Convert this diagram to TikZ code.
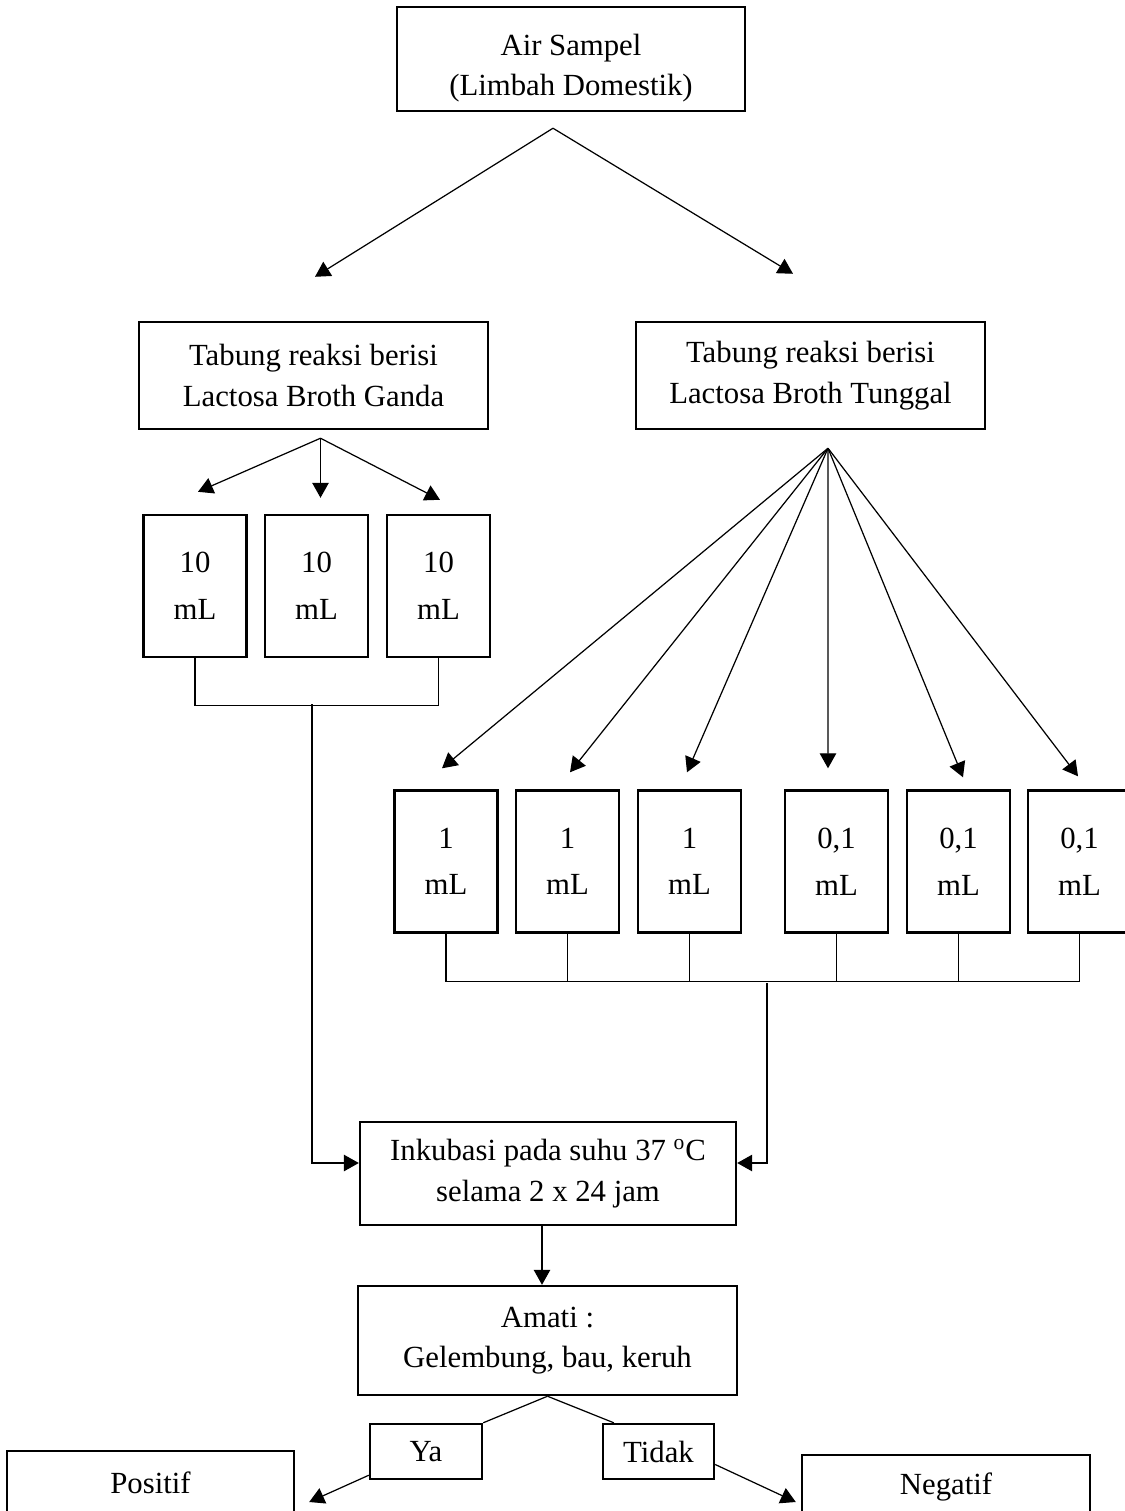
\documentclass[tikz,border=0pt]{standalone}
\usepackage{fontspec}
\setmainfont{Liberation Serif}
\usetikzlibrary{arrows.meta,calc,positioning}
\tikzset{%
  link/.style={-{Triangle[length=0.3cm,width=0.33cm]},line width=0.7pt},
  wire/.style={line width=0.7pt},
  block/.style={rectangle,draw,line width=1.4pt,align=center,inner sep=0pt,font=\fontsize{17.5}{23}\selectfont},
  tube/.style={block,minimum width=2.06cm,minimum height=2.84cm,font=\fontsize{17.5}{26.5}\selectfont}
}

\begin{document}
\begin{tikzpicture}[x=0.02cm,y=-0.02cm]
 \useasboundingbox (0,0) rectangle (1125,1511);
 \clip (0,0) rectangle (1125,1511);

 \node[block,minimum width=6.96cm,minimum height=2.08cm] (air) at (571,59) {\rule{0pt}{22.5pt}Air Sampel\\(Limbah Domestik)};
 \node[block,minimum width=6.98cm,minimum height=2.14cm] (ganda) at (313.5,375.5) {Tabung reaksi berisi\\Lactosa Broth Ganda};
 \node[block,minimum width=6.98cm,minimum height=2.14cm] (tunggal) at (810.5,375.5) {Tabung reaksi berisi\\Lactosa Broth Tunggal};

 \node[tube] (g1) at (195,586) {10\\mL};
 \node[tube] (g2) at (316.5,586) {10\\mL};
 \node[tube] (g3) at (438.5,586) {10\\mL};

 \node[tube] (t1) at (446,861.5) {1\\mL};
 \node[tube] (t2) at (567.5,861.5) {1\\mL};
 \node[tube] (t3) at (689.5,861.5) {1\\mL};
 \node[tube] (t4) at (836.5,861.5) {0,1\\mL};
 \node[tube] (t5) at (958.5,861.5) {0,1\\mL};
 \node[tube] (t6) at (1079.5,861.5) {0,1\\mL};

 \node[block,minimum width=7.52cm,minimum height=2.06cm] (inkub) at (548,1173.5) {Inkubasi pada suhu 37 \textsuperscript{o}C\\selama 2 x 24 jam};
 \node[block,minimum width=7.58cm,minimum height=2.18cm] (amati) at (547.5,1340.5) {Amati :\\Gelembung, bau, keruh};
 \node[block,minimum width=2.24cm,minimum height=1.1cm] (ya) at (426,1451.5) {Ya};
 \node[block,minimum width=2.22cm,minimum height=1.1cm] (tidak) at (658.5,1451.5) {Tidak};
 \node[block,minimum width=5.74cm,minimum height=1.28cm] (positif) at (150.5,1483) {Positif};
 \node[block,minimum width=5.76cm,minimum height=1.28cm] (negatif) at (946,1487) {Negatif};

 \coordinate (s0) at ($(air.south)+(-18,16)$);
 \draw[link] (s0) -- ($(ganda.north)+(1.5,-44)$);
 \draw[link] (s0) -- ($(tunggal.north)+(-17.5,-47)$);

 \coordinate (s1) at ($(ganda.south)+(7,8)$);
 \draw[link] (s1) -- ($(g1.north)+(3,-22)$);
 \draw[link] (s1) -- ($(g2.north)+(4,-16)$);
 \draw[link] (s1) -- ($(g3.north)+(1.5,-14)$);

 \coordinate (s2) at ($(tunggal.south)+(17.5,18)$);
 \draw[link] (s2) -- ($(t1.north)+(-4,-21)$);
 \draw[link] (s2) -- ($(t2.north)+(2.5,-17)$);
 \draw[link] (s2) -- ($(t3.north)+(-2.5,-17)$);
 \draw[link] (s2) -- ($(t4.north)+(-8.5,-21)$);
 \draw[link] (s2) -- ($(t5.north)+(4.5,-12)$);
 \draw[link] (s2) -- ($(t6.north)+(-1.5,-13)$);

 \draw[wire] (g1.south) -- ++(0,47) -| (g3.south);
 \coordinate (j1) at (312,704);
 \draw[link] (j1) |- ($(inkub.west)+(0,-10.5)$);

 \draw[wire] (t1.south) -- ++(0,48) -| (t6.south);
 \draw[wire] (t2.south) -- ++(0,48);
 \draw[wire] (t3.south) -- ++(0,48);
 \draw[wire] (t4.south) -- ++(0,48);
 \draw[wire] (t5.south) -- ++(0,48);
 \coordinate (j2) at (767,983);
 \draw[link] (j2) |- ($(inkub.east)+(0,-10.5)$);

 \draw[link] ($(inkub.south)+(-6,0)$) -- ($(amati.north)+(-5.5,0)$);

 \draw[wire] (amati.south) -- (ya.north east);
 \draw[wire] (amati.south) -- ($(tidak.north west)+(12,0)$);
 \draw[link] ($(ya.south west)+(0,-5)$) -- ($(positif.east)+(14,19)$);
 \draw[link] ($(tidak.east)+(0,13)$) -- ($(negatif.west)+(-5,15)$);

\end{tikzpicture}
\end{document}
